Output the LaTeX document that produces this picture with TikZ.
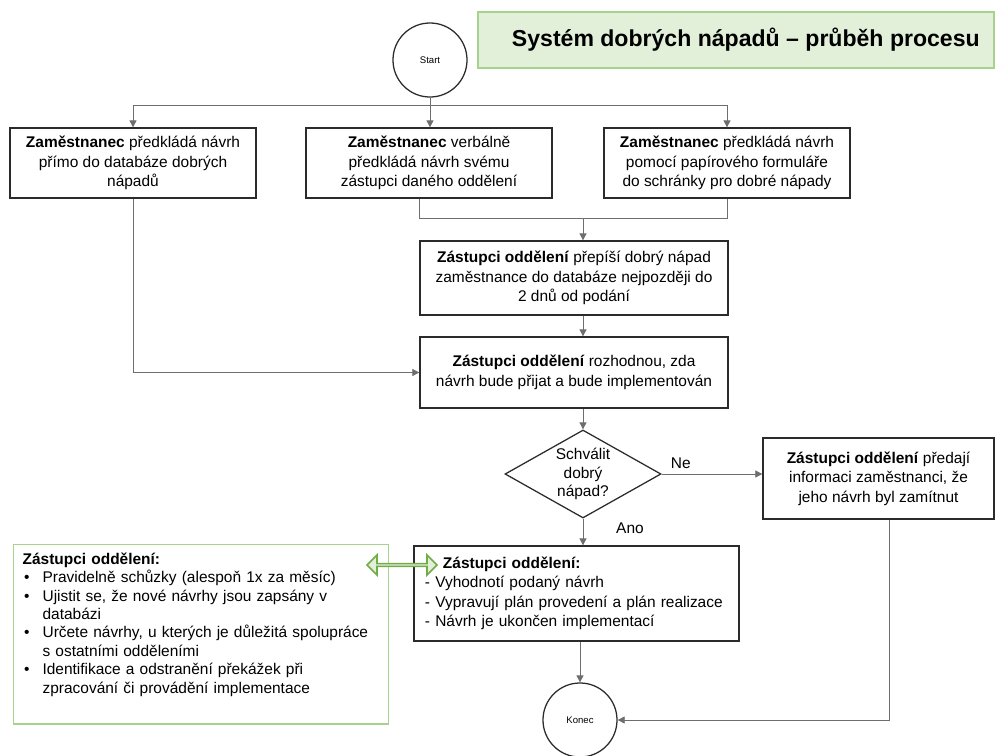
\documentclass[tikz,border=0pt]{standalone}
\usepackage{fontspec}
\setmainfont{Liberation Sans}
\usetikzlibrary{shapes.geometric, shapes.arrows, arrows.meta, positioning, calc}
\definecolor{lineGray}{HTML}{6E6E6E}
\definecolor{boxDark}{HTML}{2B2B2B}
\definecolor{titleFill}{HTML}{E2EFD9}
\definecolor{titleEdge}{HTML}{A9D18E}
\definecolor{arrowGreen}{HTML}{70AD47}

\tikzset{
  procbox/.style={draw=boxDark, line width=0.9pt, fill=white, align=center, inner sep=2pt,
    font=\fontsize{11}{13.8}\selectfont},
  endcircle/.style={draw=boxDark, line width=0.9pt, circle, minimum size=1.85cm, inner sep=0pt,
    font=\fontsize{6.8}{8}\selectfont},
  decision/.style={draw=boxDark, line width=0.9pt, diamond, aspect=1.77, inner sep=0pt,
    minimum width=3.9cm, minimum height=2.2cm, align=center, font=\fontsize{11}{13.1}\selectfont},
  flowline/.style={draw=lineGray, line width=0.6pt},
  flow/.style={flowline, -{Triangle[length=5pt, width=5pt]}},
  lbl/.style={font=\fontsize{11}{13}\selectfont, text=black},
}

\newcommand{\tipitem}[1]{\par\noindent\hangindent=14.2pt\hangafter=1
  \makebox[14.2pt][l]{\hspace{1pt}\textbullet}#1}

\begin{document}
\begin{tikzpicture}[x=0.025cm, y=-0.025cm]
  \useasboundingbox (0,0) rectangle (995,756);

  % Title
  \node[draw=titleEdge, fill=titleFill, line width=0.9pt, minimum width=12.9cm, minimum height=1.4cm,
    font=\fontsize{16.4}{19}\selectfont\bfseries] (title) at (736,40) {\hspace*{14pt}Systém dobrých nápadů – průběh procesu};

  % Start and the three ways to submit
  \node[endcircle] (start) at (430,60) {Start};
  \node[procbox, minimum width=6.15cm, minimum height=1.75cm] (b1) at (133,163)
    {\textbf{Zaměstnanec} předkládá návrh\\přímo do databáze dobrých\\nápadů};
  \node[procbox, minimum width=6.15cm, minimum height=1.75cm] (b2) at (429,163)
    {\textbf{Zaměstnanec} verbálně\\předkládá návrh svému\\zástupci daného oddělení};
  \node[procbox, minimum width=6.15cm, minimum height=1.75cm] (b3) at (727,163)
    {\textbf{Zaměstnanec} předkládá návrh\\pomocí papírového formuláře\\do schránky pro dobré nápady};

  % Department representatives
  \node[procbox, minimum width=7.7cm, minimum height=1.85cm] (b4) at (574,278)
    {\textbf{Zástupci oddělení} přepíší dobrý nápad\\zaměstnance do databáze nejpozději do\\2 dnů od podání};
  \node[procbox, minimum width=7.7cm, minimum height=1.775cm] (b5) at (574,372.5)
    {\textbf{Zástupci oddělení} rozhodnou, zda\\návrh bude přijat a bude implementován};

  % Decision
  \node[decision] (dec) at (583,474) {Schválit\\dobrý\\nápad?};
  \node[procbox, minimum width=5.775cm, minimum height=2.025cm] (b6) at (878.5,478.5)
    {\textbf{Zástupci oddělení} předají\\informaci zaměstnanci, že\\jeho návrh byl zamítnut};
  \node[procbox, align=left, text width=7.575cm, inner xsep=0.275cm, minimum height=2.375cm] (b7) at (576.5,593.5)
    {\hspace*{12.8pt}\textbf{Zástupci oddělení:}\\- Vyhodnotí podaný návrh\\- Vypravují plán provedení a plán realizace\\- Návrh je ukončen implementací};

  % Notes box on the left
  \node[draw=titleEdge, line width=0.9pt, fill=white, anchor=north west, text width=8.925cm,
    inner xsep=0.225cm, inner ysep=0.2cm, font=\fontsize{11}{13.1}\selectfont] (tips) at (13,544)
    {\raggedright\noindent\textbf{Zástupci oddělení:}
     \tipitem{Pravidelně schůzky (alespoň 1x za měsíc)}
     \tipitem{Ujistit se, že nové návrhy jsou zapsány v\newline databázi}
     \tipitem{Určete návrhy, u kterých je důležitá spolupráce\newline s ostatními odděleními}
     \tipitem{Identifikace a odstranění překážek při\newline zpracování či provádění implementace}
     \par\vspace{14pt}\hrule height 0pt width 0pt};
  \node[double arrow, draw=arrowGreen, fill=titleFill, line width=1.2pt, inner sep=0pt,
    minimum width=0.5cm, minimum height=1.75cm, double arrow head extend=0.13cm] (link) at (402,565) {};

  \node[endcircle] (konec) at (580,720) {Konec};

  % Connectors
  \coordinate (split) at (430,105);
  \coordinate (merge) at (583,218);
  \draw[flow] (start.south) -- (start.south |- b2.north);
  \draw[flow] (split) -| (b1.north);
  \draw[flow] (split) -| (b3.north);
  \draw[flowline] (b2.south -| b4.west) |- (merge);
  \draw[flowline] (b3.south) |- (merge);
  \draw[flow] (merge) -- (merge |- b4.north);
  \draw[flow] (b4.south -| dec) -- (b5.north -| dec);
  \draw[flow] (b1.south) |- (b5.west);
  \draw[flow] (b5.south -| dec) -- (dec.north);
  \draw[flow] (dec.east) -- node[lbl, pos=0.19, above] (ne) {Ne} (dec.east -| b6.west);
  \draw[flow] (dec.south) -- node[lbl, pos=0.35, right=20pt] (ano) {Ano} (dec.south |- b7.north);
  \draw[flow] (b7.south -| konec) -- (konec.north);
  \draw[flow] ([xshift=7.5pt]b6.south) |- (konec.east);
\end{tikzpicture}
\end{document}
